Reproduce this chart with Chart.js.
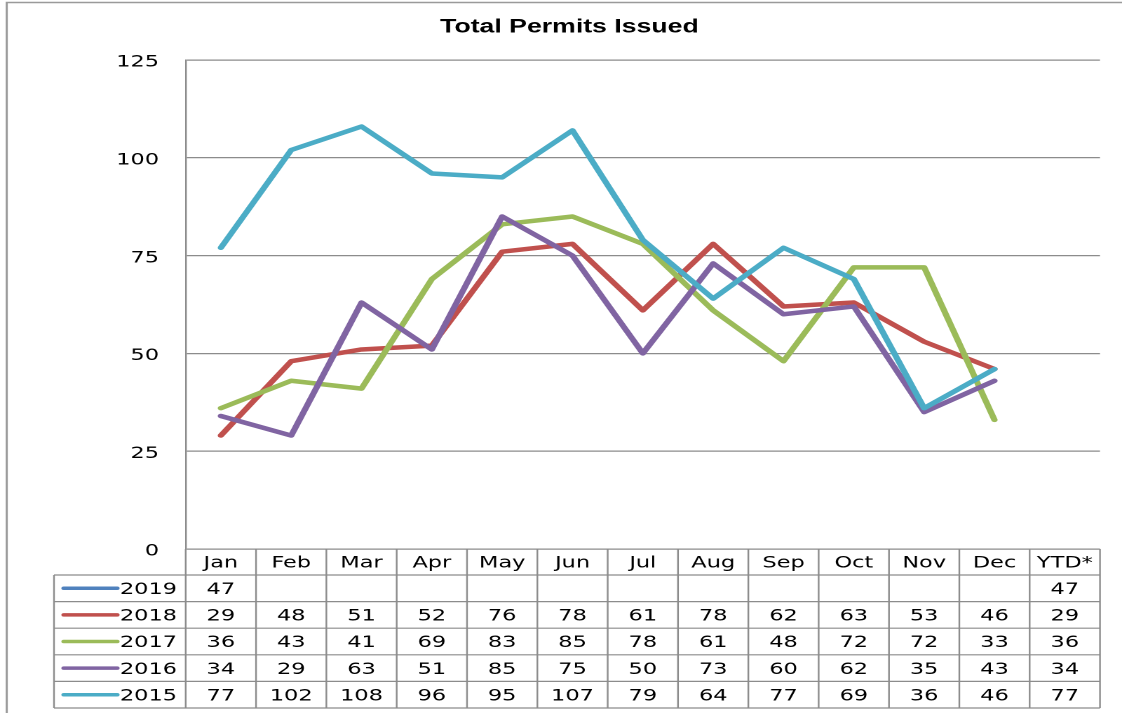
<!DOCTYPE html>
<html>
<head>
<meta charset="utf-8">
<title>Total Permits Issued</title>
<script src="https://cdn.jsdelivr.net/npm/chart.js@4"></script>
<style>
  html, body { margin: 0; padding: 0; background: #fff; overflow: hidden; }
  /* the reference is drawn wide, so the chart is laid out at 800px and stretched */
  #wrap { width: 800px; height: 713px; transform: scaleX(1.4025); transform-origin: 0 0; }
</style>
</head>
<body>
<div id="wrap"><canvas id="permitsChart" width="800" height="713"></canvas></div>
<script>
const chartTitle = 'Total Permits Issued';
const months = ['Jan', 'Feb', 'Mar', 'Apr', 'May', 'Jun', 'Jul', 'Aug', 'Sep', 'Oct', 'Nov', 'Dec'];
const columns = [...months, 'YTD*'];
const years = ['2019', '2018', '2017', '2016', '2015'];
const v2019 = [47];
const v2018 = [29, 48, 51, 52, 76, 78, 61, 78, 62, 63, 53, 46];
const v2017 = [36, 43, 41, 69, 83, 85, 78, 61, 48, 72, 72, 33];
const v2016 = [34, 29, 63, 51, 85, 75, 50, 73, 60, 62, 35, 43];
const v2015 = [77, 102, 108, 96, 95, 107, 79, 64, 77, 69, 36, 46];
const ytd = [47, 29, 36, 34, 77];
const colors = ['#4f81bd', '#c0504d', '#9bbb59', '#8064a2', '#4bacc6'];
const yMin = 0, yMax = 125, yStep = 25;

const series = [v2019, v2018, v2017, v2016, v2015];
const gridGray = '#8c8c8c';
const tableFont = '16px "DejaVu Sans"';

// outer frame of the chart object + title
const framePlugin = {
  id: 'frame',
  beforeDraw(chart) {
    const ctx = chart.ctx;
    ctx.save();
    ctx.fillStyle = '#fff';
    ctx.fillRect(0, 0, chart.width, chart.height);
    ctx.strokeStyle = '#9a9a9a';
    ctx.lineWidth = 1.5;
    ctx.beginPath();
    ctx.moveTo(4.8, chart.height + 5);
    ctx.lineTo(4.8, 2.5);
    ctx.lineTo(chart.width + 5, 2.5);
    ctx.stroke();

    ctx.font = 'bold 19px "Liberation Sans", Arial, sans-serif';
    ctx.fillStyle = '#000';
    ctx.textAlign = 'center';
    ctx.textBaseline = 'middle';
    ctx.fillText(chartTitle, 406, 27.5);
    ctx.restore();
  }
};

// data table under the plot, columns follow the x scale
const tablePlugin = {
  id: 'dataTable',
  afterDraw(chart) {
    const ctx = chart.ctx;
    const area = chart.chartArea;
    const x = chart.scales.x;
    const colW = (area.right - area.left) / columns.length;
    const headH = 26, rowH = 26.6;
    const top = area.bottom;
    const bodyTop = top + headH;
    const bottom = bodyTop + rowH * years.length;
    const legendLeft = 38.5;

    ctx.save();
    ctx.strokeStyle = gridGray;
    ctx.lineWidth = 1.2;
    ctx.beginPath();
    for (let r = 0; r <= years.length; r++) {
      const y = bodyTop + r * rowH;
      ctx.moveTo(legendLeft, y);
      ctx.lineTo(area.right, y);
    }
    for (let c = 0; c <= columns.length; c++) {
      const cx = area.left + c * colW;
      ctx.moveTo(cx, top);
      ctx.lineTo(cx, bottom);
    }
    ctx.moveTo(legendLeft, bodyTop);
    ctx.lineTo(legendLeft, bottom);
    ctx.stroke();

    ctx.font = tableFont;
    ctx.fillStyle = '#000';
    ctx.textAlign = 'center';
    ctx.textBaseline = 'middle';
    columns.forEach((lab, i) => {
      ctx.fillText(lab, x.getPixelForValue(i), top + headH / 2 + 1.5);
    });

    years.forEach((yr, r) => {
      const cy = bodyTop + r * rowH + rowH / 2 + 1.5;
      // legend key
      ctx.strokeStyle = colors[r];
      ctx.lineWidth = 3.5;
      ctx.lineCap = 'round';
      ctx.beginPath();
      ctx.moveTo(45.5, cy - 1.5);
      ctx.lineTo(83.5, cy - 1.5);
      ctx.stroke();
      ctx.textAlign = 'right';
      ctx.fillText(yr, 126.2, cy);
      ctx.textAlign = 'center';
      series[r].forEach((v, i) => {
        if (v != null) ctx.fillText(String(v), x.getPixelForValue(i), cy);
      });
      ctx.fillText(String(ytd[r]), x.getPixelForValue(columns.length - 1), cy);
    });
    ctx.restore();
  }
};

new Chart(document.getElementById('permitsChart'), {
  type: 'line',
  data: {
    labels: columns,
    datasets: years.map((yr, i) => ({
      label: yr,
      data: series[i],
      borderColor: colors[i],
      backgroundColor: colors[i],
      borderWidth: 4.5,
      borderJoinStyle: 'round',
      // a single point would show up as a dot with round caps
      borderCapStyle: series[i].length > 1 ? 'round' : 'butt',
      pointRadius: 0,
      tension: 0,
      order: years.length - 1 - i
    }))
  },
  options: {
    responsive: false,
    animation: false,
    devicePixelRatio: 2,
    layout: { padding: { left: 0, right: 15.7, top: 60, bottom: 164 } },
    plugins: {
      legend: { display: false },
      tooltip: { enabled: false },
      title: { display: false }
    },
    scales: {
      x: {
        type: 'category',
        offset: true,
        display: false
      },
      y: {
        min: yMin,
        max: yMax,
        afterFit(scale) { scale.width = 132.4; },
        ticks: {
          stepSize: yStep,
          color: '#000',
          padding: 19,
          labelOffset: 2.5,
          font: { family: '"DejaVu Sans", Verdana, sans-serif', size: 16 }
        },
        grid: { color: gridGray, lineWidth: 1.2, drawTicks: false },
        border: { display: true, color: gridGray, width: 1.2 }
      }
    }
  },
  plugins: [framePlugin, tablePlugin]
});
</script>
</body>
</html>
